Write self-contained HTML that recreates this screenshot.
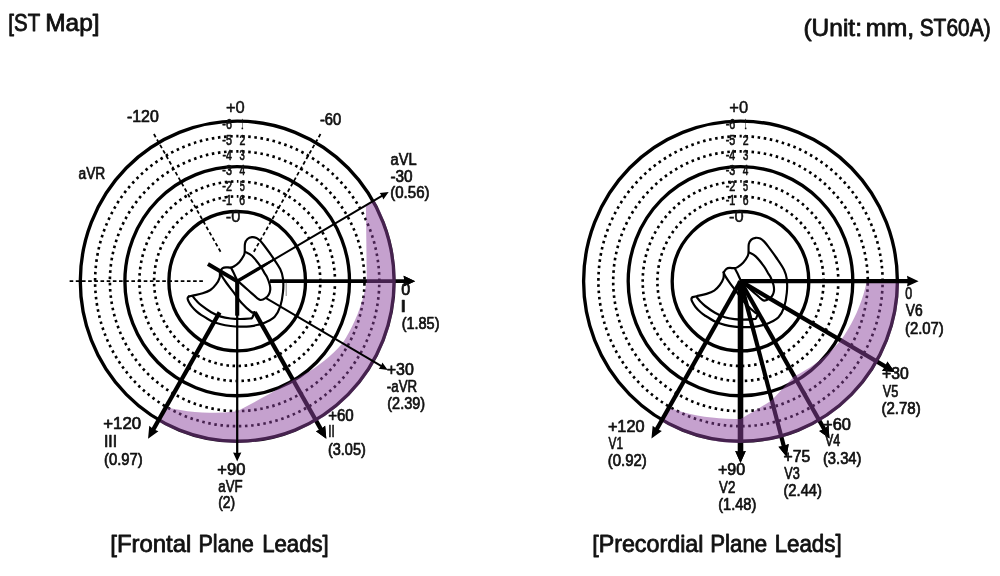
<!DOCTYPE html>
<html lang="en"><head><meta charset="utf-8"><title>ST Map</title>
<style>html,body{margin:0;padding:0;background:#fff}svg{display:block;filter:blur(0.45px)}text{font-family:"Liberation Sans",sans-serif;fill:#111;stroke:#111;stroke-width:0.7px;stroke-linejoin:round}text.h{stroke-width:0.8px}text.s{stroke-width:0.7px}text.m{stroke-width:0.45px}</style>
</head><body>
<svg width="1000" height="576" viewBox="0 0 1000 576">
<rect width="1000" height="576" fill="#fff"/>
<g transform="translate(237.2,281.2) scale(0.98,1)" stroke="#000" fill="none">
<line x1="-17.00" y1="-29.44" x2="-85.50" y2="-148.09" stroke-width="1.8" stroke-dasharray="3.7 2.6"/>
<line x1="17.00" y1="-29.44" x2="85.50" y2="-148.09" stroke-width="1.8" stroke-dasharray="3.7 2.6"/>
<line x1="-171.00" y1="0" x2="-33" y2="0" stroke-width="1.8" stroke-dasharray="3.7 2.6"/>
<circle r="69.7" fill="none" stroke="#000" stroke-width="3.4"/>
<circle r="84.8" fill="none" stroke="#000" stroke-width="2.7" stroke-dasharray="2.6 3.6684" stroke-dashoffset="1.3" transform="rotate(-90)"/>
<circle r="99.8" fill="none" stroke="#000" stroke-width="2.7" stroke-dasharray="2.6 3.6706" stroke-dashoffset="1.3" transform="rotate(-90)"/>
<circle r="114.6" fill="none" stroke="#000" stroke-width="3.4"/>
<circle r="129.9" fill="none" stroke="#000" stroke-width="2.7" stroke-dasharray="2.6 3.6784" stroke-dashoffset="1.3" transform="rotate(-90)"/>
<circle r="145.0" fill="none" stroke="#000" stroke-width="2.7" stroke-dasharray="2.6 3.6832" stroke-dashoffset="1.3" transform="rotate(-90)"/>
<circle r="160.1" fill="none" stroke="#000" stroke-width="3.4"/>
<g fill="none" stroke="#000" stroke-width="2.2" stroke-linejoin="round" stroke-linecap="round">
<path d="M-17.65,-9.50 C-17.70,-8.48 -17.30,-5.52 -17.96,-3.40 C-18.62,-1.28 -20.07,1.17 -21.63,3.20 C-23.20,5.23 -25.09,7.32 -27.35,8.80 C-29.61,10.28 -32.19,11.17 -35.20,12.10 C-38.21,13.03 -43.04,13.87 -45.41,14.40 C-47.77,14.93 -48.72,15.15 -49.39,15.30"/>
<path d="M-49.39,15.30 C-49.59,15.58 -50.58,16.17 -50.61,17.00 C-50.65,17.83 -50.29,18.93 -49.59,20.30 C-48.89,21.67 -47.77,23.55 -46.43,25.20 C-45.09,26.85 -43.18,28.75 -41.53,30.20 C-39.88,31.65 -39.03,32.32 -36.53,33.90 C-34.03,35.48 -29.85,38.17 -26.53,39.70 C-23.21,41.23 -19.93,42.25 -16.63,43.10 C-13.33,43.95 -10.03,44.42 -6.73,44.80 C-3.44,45.18 -0.14,45.35 3.16,45.40 C6.46,45.45 10.09,45.40 13.06,45.10 C16.04,44.80 18.33,44.28 21.02,43.60 C23.71,42.92 26.31,42.35 29.18,41.00 C32.06,39.65 35.82,38.08 38.27,35.50 C40.71,32.92 42.47,29.58 43.88,25.50 C45.29,21.42 46.26,15.68 46.73,11.00 C47.21,6.32 47.21,1.25 46.73,-2.60 C46.26,-6.45 45.68,-8.48 43.88,-12.10 C42.07,-15.72 38.59,-20.45 35.92,-24.30 C33.25,-28.15 29.93,-32.52 27.86,-35.20 C25.78,-37.88 24.83,-39.07 23.47,-40.40 C22.11,-41.73 21.11,-42.60 19.69,-43.20 C18.28,-43.80 16.53,-44.17 15.00,-44.00 C13.47,-43.83 11.68,-43.25 10.51,-42.20 C9.34,-41.15 8.44,-39.85 7.96,-37.70 C7.48,-35.55 7.86,-31.32 7.65,-29.30 C7.45,-27.28 7.65,-27.32 6.73,-25.60 C5.82,-23.88 3.84,-20.82 2.14,-19.00 C0.44,-17.18 -1.96,-15.60 -3.47,-14.70 C-4.98,-13.80 -5.61,-13.73 -6.94,-13.60 C-8.27,-13.47 -10.12,-14.00 -11.43,-13.90 C-12.74,-13.80 -13.76,-13.73 -14.80,-13.00 C-15.83,-12.27 -17.18,-10.08 -17.65,-9.50"/>
<path d="M8.27,-29.30 C9.39,-28.65 12.47,-27.72 15.00,-25.40 C17.53,-23.08 21.29,-18.32 23.47,-15.40 C25.65,-12.48 26.92,-9.75 28.06,-7.90 C29.20,-6.05 29.46,-6.15 30.31,-4.30 C31.16,-2.45 32.60,1.02 33.16,3.20 C33.72,5.38 33.83,7.12 33.67,8.80 C33.52,10.48 32.99,12.00 32.24,13.30 C31.50,14.60 30.54,15.68 29.18,16.60 C27.82,17.52 25.51,18.72 24.08,18.80 C22.65,18.88 22.79,18.77 20.61,17.10 C18.44,15.43 14.13,11.48 11.02,8.80 C7.91,6.12 3.76,2.58 1.94,1.00 C0.12,-0.58 0.41,-0.42 0.10,-0.70"/>
<path d="M-6.33,-13.60 C-5.90,-12.78 -4.68,-10.53 -3.78,-8.70 C-2.87,-6.87 -1.56,-3.93 -0.92,-2.60 C-0.27,-1.27 -0.07,-1.02 0.10,-0.70"/>
<path d="M-17.65,-9.50 C-17.43,-8.95 -17.45,-8.08 -16.33,-6.20 C-15.20,-4.32 -12.98,-1.02 -10.92,1.80 C-8.86,4.62 -6.56,7.37 -3.98,10.70 C-1.39,14.03 1.51,18.45 4.59,21.80 C7.67,25.15 12.33,29.27 14.49,30.80 C16.65,32.33 17.04,30.97 17.55,31.00"/>
<path d="M-45.10,15.40 C-44.51,16.10 -42.96,18.13 -41.53,19.60 C-40.10,21.07 -39.03,22.30 -36.53,24.20 C-34.03,26.10 -29.85,29.13 -26.53,31.00 C-23.21,32.87 -19.93,34.35 -16.63,35.40 C-13.33,36.45 -10.03,36.90 -6.73,37.30 C-3.44,37.70 -0.14,37.80 3.16,37.80 C6.46,37.80 11.07,37.47 13.06,37.30 C15.05,37.13 14.56,37.30 15.10,36.80 C15.65,36.30 15.92,35.27 16.33,34.30 C16.73,33.33 17.35,31.55 17.55,31.00"/>
</g>
<line x1="33.50" y1="0.00" x2="173.34" y2="0.00" stroke-width="3.7"/>
<path d="M181.60,0.00 L169.80,5.40 L170.63,0.00 L169.80,-5.40 Z" fill="#000" stroke="none"/>
<line x1="18.00" y1="31.18" x2="86.82" y2="150.38" stroke-width="4.3"/>
<path d="M90.95,157.53 L80.37,150.01 L85.46,148.03 L89.73,144.61 Z" fill="#000" stroke="none"/>
<path d="M140.04,-80.85 A161.7,161.7 0 0 1 -80.85,140.04 L-72.74,125.99 L-65.39,127.59 L-58.01,128.92 L-50.63,129.97 L-43.25,130.75 L-35.90,131.26 L-28.59,131.51 L-21.33,131.49 L-14.13,131.23 L-7.02,130.71 L0.00,129.96 L5.83,127.01 L11.63,124.02 L17.42,120.99 L23.17,117.92 L28.90,114.82 L34.60,111.68 L40.27,108.52 L45.90,105.32 L51.50,102.09 L57.07,98.85 L62.57,96.25 L68.01,93.41 L73.37,90.31 L78.64,86.97 L83.79,83.39 L88.83,79.57 L93.72,75.52 L98.47,71.24 L103.05,66.75 L107.46,62.04 L110.99,56.51 L114.31,50.80 L117.41,44.92 L120.28,38.88 L122.92,32.70 L125.30,26.37 L127.44,19.93 L129.30,13.38 L130.90,6.73 L132.22,0.00 L131.34,-75.83 Z" fill="rgb(139,67,157)" fill-opacity="0.5" stroke="none"/>
<path d="M181.60,0.00 L169.80,5.40 L170.63,0.00 L169.80,-5.40 Z" fill="#000" stroke="none"/>
<path d="M90.95,157.53 L80.37,150.01 L85.46,148.03 L89.73,144.61 Z" fill="#000" stroke="none"/>
<line x1="-18.00" y1="31.18" x2="-86.82" y2="150.38" stroke-width="4.3"/>
<path d="M-90.95,157.53 L-89.73,144.61 L-85.46,148.03 L-80.37,150.01 Z" fill="#000" stroke="none"/>
<line x1="0" y1="0" x2="0" y2="34.5" stroke-width="4.2"/>
<line x1="0.00" y1="0.00" x2="0.00" y2="173.90" stroke-width="2.3"/>
<path d="M0.00,180.20 L-4.20,171.20 L0.00,171.83 L4.20,171.20 Z" fill="#000" stroke="none"/>
<line x1="0" y1="0" x2="-29.88" y2="-17.25" stroke-width="4.0"/>
<line x1="28.58" y1="16.50" x2="148.48" y2="85.72" stroke-width="2.0"/>
<path d="M153.63,88.70 L144.42,87.65 L146.79,84.75 L148.12,81.25 Z" fill="#000" stroke="none"/>
<path d="M-0.85,-1.47 L20.80,-13.97 L36.74,-22.37 L37.74,-20.63 L22.50,-11.03 L0.85,1.47 Z" fill="#000" stroke="none"/>
<line x1="0.00" y1="-0.00" x2="149.43" y2="-86.27" stroke-width="2.0"/>
<path d="M154.59,-89.25 L149.07,-81.80 L147.74,-85.30 L145.37,-88.20 Z" fill="#000" stroke="none"/>
</g>
<g transform="translate(740.5,281.2) scale(0.98,1)" stroke="#000" fill="none">
<circle r="69.7" fill="none" stroke="#000" stroke-width="3.4"/>
<circle r="84.8" fill="none" stroke="#000" stroke-width="2.7" stroke-dasharray="2.6 3.6684" stroke-dashoffset="1.3" transform="rotate(-90)"/>
<circle r="99.8" fill="none" stroke="#000" stroke-width="2.7" stroke-dasharray="2.6 3.6706" stroke-dashoffset="1.3" transform="rotate(-90)"/>
<circle r="114.6" fill="none" stroke="#000" stroke-width="3.4"/>
<circle r="129.9" fill="none" stroke="#000" stroke-width="2.7" stroke-dasharray="2.6 3.6784" stroke-dashoffset="1.3" transform="rotate(-90)"/>
<circle r="145.0" fill="none" stroke="#000" stroke-width="2.7" stroke-dasharray="2.6 3.6832" stroke-dashoffset="1.3" transform="rotate(-90)"/>
<circle r="160.1" fill="none" stroke="#000" stroke-width="3.4"/>
<g transform="translate(0.51,0.6)">
<g fill="none" stroke="#000" stroke-width="2.2" stroke-linejoin="round" stroke-linecap="round">
<path d="M-17.65,-9.50 C-17.70,-8.48 -17.30,-5.52 -17.96,-3.40 C-18.62,-1.28 -20.07,1.17 -21.63,3.20 C-23.20,5.23 -25.09,7.32 -27.35,8.80 C-29.61,10.28 -32.19,11.17 -35.20,12.10 C-38.21,13.03 -43.04,13.87 -45.41,14.40 C-47.77,14.93 -48.72,15.15 -49.39,15.30"/>
<path d="M-49.39,15.30 C-49.59,15.58 -50.58,16.17 -50.61,17.00 C-50.65,17.83 -50.29,18.93 -49.59,20.30 C-48.89,21.67 -47.77,23.55 -46.43,25.20 C-45.09,26.85 -43.18,28.75 -41.53,30.20 C-39.88,31.65 -39.03,32.32 -36.53,33.90 C-34.03,35.48 -29.85,38.17 -26.53,39.70 C-23.21,41.23 -19.93,42.25 -16.63,43.10 C-13.33,43.95 -10.03,44.42 -6.73,44.80 C-3.44,45.18 -0.14,45.35 3.16,45.40 C6.46,45.45 10.09,45.40 13.06,45.10 C16.04,44.80 18.33,44.28 21.02,43.60 C23.71,42.92 26.31,42.35 29.18,41.00 C32.06,39.65 35.82,38.08 38.27,35.50 C40.71,32.92 42.47,29.58 43.88,25.50 C45.29,21.42 46.26,15.68 46.73,11.00 C47.21,6.32 47.21,1.25 46.73,-2.60 C46.26,-6.45 45.68,-8.48 43.88,-12.10 C42.07,-15.72 38.59,-20.45 35.92,-24.30 C33.25,-28.15 29.93,-32.52 27.86,-35.20 C25.78,-37.88 24.83,-39.07 23.47,-40.40 C22.11,-41.73 21.11,-42.60 19.69,-43.20 C18.28,-43.80 16.53,-44.17 15.00,-44.00 C13.47,-43.83 11.68,-43.25 10.51,-42.20 C9.34,-41.15 8.44,-39.85 7.96,-37.70 C7.48,-35.55 7.86,-31.32 7.65,-29.30 C7.45,-27.28 7.65,-27.32 6.73,-25.60 C5.82,-23.88 3.84,-20.82 2.14,-19.00 C0.44,-17.18 -1.96,-15.60 -3.47,-14.70 C-4.98,-13.80 -5.61,-13.73 -6.94,-13.60 C-8.27,-13.47 -10.12,-14.00 -11.43,-13.90 C-12.74,-13.80 -13.76,-13.73 -14.80,-13.00 C-15.83,-12.27 -17.18,-10.08 -17.65,-9.50"/>
<path d="M8.27,-29.30 C9.39,-28.65 12.47,-27.72 15.00,-25.40 C17.53,-23.08 21.29,-18.32 23.47,-15.40 C25.65,-12.48 26.92,-9.75 28.06,-7.90 C29.20,-6.05 29.46,-6.15 30.31,-4.30 C31.16,-2.45 32.60,1.02 33.16,3.20 C33.72,5.38 33.83,7.12 33.67,8.80 C33.52,10.48 32.99,12.00 32.24,13.30 C31.50,14.60 30.54,15.68 29.18,16.60 C27.82,17.52 25.51,18.72 24.08,18.80 C22.65,18.88 22.79,18.77 20.61,17.10 C18.44,15.43 14.13,11.48 11.02,8.80 C7.91,6.12 3.76,2.58 1.94,1.00 C0.12,-0.58 0.41,-0.42 0.10,-0.70"/>
<path d="M-6.33,-13.60 C-5.90,-12.78 -4.68,-10.53 -3.78,-8.70 C-2.87,-6.87 -1.56,-3.93 -0.92,-2.60 C-0.27,-1.27 -0.07,-1.02 0.10,-0.70"/>
<path d="M-17.65,-9.50 C-17.43,-8.95 -17.45,-8.08 -16.33,-6.20 C-15.20,-4.32 -12.98,-1.02 -10.92,1.80 C-8.86,4.62 -6.56,7.37 -3.98,10.70 C-1.39,14.03 1.51,18.45 4.59,21.80 C7.67,25.15 12.33,29.27 14.49,30.80 C16.65,32.33 17.04,30.97 17.55,31.00"/>
<path d="M-45.10,15.40 C-44.51,16.10 -42.96,18.13 -41.53,19.60 C-40.10,21.07 -39.03,22.30 -36.53,24.20 C-34.03,26.10 -29.85,29.13 -26.53,31.00 C-23.21,32.87 -19.93,34.35 -16.63,35.40 C-13.33,36.45 -10.03,36.90 -6.73,37.30 C-3.44,37.70 -0.14,37.80 3.16,37.80 C6.46,37.80 11.07,37.47 13.06,37.30 C15.05,37.13 14.56,37.30 15.10,36.80 C15.65,36.30 15.92,35.27 16.33,34.30 C16.73,33.33 17.35,31.55 17.55,31.00"/>
</g>
</g>
<line x1="0.00" y1="0.00" x2="150.20" y2="86.72" stroke-width="4.3"/>
<path d="M157.36,90.85 L144.44,89.63 L147.85,85.36 L149.84,80.27 Z" fill="#000" stroke="none"/>
<line x1="0.00" y1="0.00" x2="86.72" y2="150.20" stroke-width="4.3"/>
<path d="M90.85,157.36 L80.27,149.84 L85.36,147.85 L89.63,144.44 Z" fill="#000" stroke="none"/>
<line x1="0.00" y1="0.00" x2="44.89" y2="167.53" stroke-width="4.3"/>
<path d="M47.03,175.51 L38.76,165.51 L44.19,164.91 L49.19,162.71 Z" fill="#000" stroke="none"/>
<line x1="0.00" y1="0.00" x2="0.00" y2="173.44" stroke-width="5.7"/>
<path d="M0.00,181.70 L-5.40,169.90 L0.00,170.73 L5.40,169.90 Z" fill="#000" stroke="none"/>
<path d="M161.70,0.00 A161.7,161.7 0 0 1 -80.85,140.04 L-73.12,126.64 L-65.94,128.92 L-58.69,130.94 L-51.39,132.70 L-44.05,134.20 L-36.69,135.44 L-29.31,136.42 L-21.95,137.15 L-14.60,137.62 L-7.28,137.83 L0.00,137.80 L3.24,135.97 L6.47,134.14 L9.68,132.30 L12.89,130.44 L16.09,128.58 L19.28,126.71 L22.45,124.82 L25.62,122.93 L28.78,121.03 L31.92,119.13 L54.88,95.06 L60.11,92.48 L65.26,89.66 L70.33,86.61 L75.30,83.33 L80.17,79.83 L84.90,76.10 L89.51,72.16 L93.96,68.00 L98.25,63.65 L102.37,59.10 L106.00,53.94 L109.44,48.58 L112.69,43.04 L115.72,37.32 L118.53,31.44 L121.11,25.41 L123.44,19.24 L125.53,12.94 L127.35,6.52 L128.91,0.00 Z" fill="rgb(139,67,157)" fill-opacity="0.5" stroke="none"/>
<path d="M157.36,90.85 L144.44,89.63 L147.85,85.36 L149.84,80.27 Z" fill="#000" stroke="none"/>
<path d="M90.85,157.36 L80.27,149.84 L85.36,147.85 L89.63,144.44 Z" fill="#000" stroke="none"/>
<path d="M47.03,175.51 L38.76,165.51 L44.19,164.91 L49.19,162.71 Z" fill="#000" stroke="none"/>
<path d="M0.00,181.70 L-5.40,169.90 L0.00,170.73 L5.40,169.90 Z" fill="#000" stroke="none"/>
<line x1="0.00" y1="0.00" x2="173.44" y2="0.00" stroke-width="4.3"/>
<path d="M181.70,0.00 L169.90,5.40 L170.73,0.00 L169.90,-5.40 Z" fill="#000" stroke="none"/>
<line x1="-0.00" y1="0.00" x2="-86.72" y2="150.20" stroke-width="4.3"/>
<path d="M-90.85,157.36 L-89.63,144.44 L-85.36,147.85 L-80.27,149.84 Z" fill="#000" stroke="none"/>
</g>
<line x1="286.2" y1="282.8" x2="286.2" y2="296" stroke="#777" stroke-width="0.9"/>
<g>
<text transform="translate(8.36,30.90) scale(0.8842,1)" font-size="23.2" class="h">[ST</text>
<text transform="translate(45.18,30.90) scale(1.0557,1)" font-size="23.2" class="h">Map]</text>
<text transform="translate(803.47,36.40) scale(1.0557,1)" font-size="23.2" class="h">(Unit:</text>
<text transform="translate(865.71,36.40) scale(1.0770,1)" font-size="23.2" class="h">mm,</text>
<text transform="translate(919.66,36.40) scale(0.9027,1)" font-size="23.2" class="h">ST60A)</text>
<text transform="translate(110.33,552.00) scale(1.0310,1)" font-size="23.2" class="h">[Frontal</text>
<text transform="translate(198.42,552.00) scale(0.9321,1)" font-size="23.2" class="h">Plane</text>
<text transform="translate(262.17,552.00) scale(0.9558,1)" font-size="23.2" class="h">Leads]</text>
<text transform="translate(592.17,551.50) scale(1.0037,1)" font-size="23.2" class="h">[Precordial</text>
<text transform="translate(710.27,551.50) scale(0.9586,1)" font-size="23.2" class="h">Plane</text>
<text transform="translate(774.66,551.50) scale(0.9619,1)" font-size="23.2" class="h">Leads]</text>
<text transform="translate(225.94,112.50) scale(1.0469,1)" font-size="15.8" class="m">+0</text>
<text transform="translate(222.37,129.20) scale(0.7414,1)" font-size="14.5" class="s">-6</text>
<text transform="translate(241.42,129.20) scale(0.2073,1)" font-size="14.5" class="s">1</text>
<text transform="translate(222.37,144.60) scale(0.7391,1)" font-size="14.5" class="s">-5</text>
<text transform="translate(239.42,144.60) scale(0.7275,1)" font-size="14.5" class="s">2</text>
<text transform="translate(222.38,159.70) scale(0.7277,1)" font-size="14.5" class="s">-4</text>
<text transform="translate(239.59,159.70) scale(0.6534,1)" font-size="14.5" class="s">3</text>
<text transform="translate(222.37,174.80) scale(0.7414,1)" font-size="14.5" class="s">-3</text>
<text transform="translate(239.42,174.80) scale(0.6965,1)" font-size="14.5" class="s">4</text>
<text transform="translate(222.36,190.60) scale(0.7484,1)" font-size="14.5" class="s">-2</text>
<text transform="translate(239.79,190.60) scale(0.6243,1)" font-size="14.5" class="s">5</text>
<text transform="translate(222.36,205.40) scale(0.7460,1)" font-size="14.5" class="s">-1</text>
<text transform="translate(239.33,205.40) scale(0.7158,1)" font-size="14.5" class="s">6</text>
<text transform="translate(225.78,221.90) scale(1.0417,1)" font-size="15.8" class="m">-0</text>
<text transform="translate(729.24,112.50) scale(1.0469,1)" font-size="15.8" class="m">+0</text>
<text transform="translate(725.67,129.20) scale(0.7414,1)" font-size="14.5" class="s">-6</text>
<text transform="translate(744.72,129.20) scale(0.2073,1)" font-size="14.5" class="s">1</text>
<text transform="translate(725.67,144.60) scale(0.7391,1)" font-size="14.5" class="s">-5</text>
<text transform="translate(742.72,144.60) scale(0.7275,1)" font-size="14.5" class="s">2</text>
<text transform="translate(725.68,159.70) scale(0.7277,1)" font-size="14.5" class="s">-4</text>
<text transform="translate(742.89,159.70) scale(0.6534,1)" font-size="14.5" class="s">3</text>
<text transform="translate(725.67,174.80) scale(0.7414,1)" font-size="14.5" class="s">-3</text>
<text transform="translate(742.72,174.80) scale(0.6965,1)" font-size="14.5" class="s">4</text>
<text transform="translate(725.66,190.60) scale(0.7484,1)" font-size="14.5" class="s">-2</text>
<text transform="translate(743.09,190.60) scale(0.6243,1)" font-size="14.5" class="s">5</text>
<text transform="translate(725.66,205.40) scale(0.7460,1)" font-size="14.5" class="s">-1</text>
<text transform="translate(742.63,205.40) scale(0.7158,1)" font-size="14.5" class="s">6</text>
<text transform="translate(729.08,221.90) scale(1.0417,1)" font-size="15.8" class="m">-0</text>
<text transform="translate(126.93,122.30) scale(1.0067,1)" font-size="15.8">-120</text>
<text transform="translate(319.89,124.55) scale(0.9337,1)" font-size="15.8">-60</text>
<text transform="translate(78.51,178.50) scale(0.8717,1)" font-size="15.8">aVR</text>
<text transform="translate(390.53,164.80) scale(0.9294,1)" font-size="15.8">aVL</text>
<text transform="translate(390.46,182.30) scale(0.9709,1)" font-size="15.8">-30</text>
<text transform="translate(390.21,198.00) scale(0.9532,1)" font-size="15.8">(0.56)</text>
<text transform="translate(401.20,294.70) scale(1.0206,1)" font-size="15.8">0</text>
<text transform="translate(400.35,312.05) scale(1.3685,1)" font-size="15.8">I</text>
<text transform="translate(401.64,328.70) scale(0.9176,1)" font-size="15.8">(1.85)</text>
<text transform="translate(386.69,374.55) scale(1.0103,1)" font-size="15.8">+30</text>
<text transform="translate(386.85,392.30) scale(0.8429,1)" font-size="15.8">-aVR</text>
<text transform="translate(387.24,409.25) scale(0.9176,1)" font-size="15.8">(2.39)</text>
<text transform="translate(328.13,420.70) scale(0.9553,1)" font-size="15.8">+60</text>
<text transform="translate(328.28,437.30) scale(0.7355,1)" font-size="15.8">II</text>
<text transform="translate(327.94,455.20) scale(0.9176,1)" font-size="15.8">(3.05)</text>
<text transform="translate(217.37,474.80) scale(1.0457,1)" font-size="15.8">+90</text>
<text transform="translate(218.29,491.50) scale(0.8391,1)" font-size="15.8">aVF</text>
<text transform="translate(218.23,508.30) scale(0.8774,1)" font-size="15.8">(2)</text>
<text transform="translate(103.25,428.60) scale(1.0658,1)" font-size="15.8">+120</text>
<text transform="translate(103.89,447.00) scale(0.9970,1)" font-size="15.8">III</text>
<text transform="translate(104.02,465.00) scale(0.9405,1)" font-size="15.8">(0.97)</text>
<text transform="translate(905.36,299.10) scale(0.7820,1)" font-size="15.8">0</text>
<text transform="translate(905.78,316.40) scale(0.8780,1)" font-size="15.8">V6</text>
<text transform="translate(904.92,333.80) scale(0.9430,1)" font-size="15.8">(2.07)</text>
<text transform="translate(882.10,379.00) scale(0.9985,1)" font-size="15.8">+30</text>
<text transform="translate(882.79,396.80) scale(0.8063,1)" font-size="15.8">V5</text>
<text transform="translate(881.41,413.80) scale(0.9532,1)" font-size="15.8">(2.78)</text>
<text transform="translate(823.07,430.00) scale(1.0378,1)" font-size="15.8">+60</text>
<text transform="translate(824.89,446.30) scale(0.7925,1)" font-size="15.8">V4</text>
<text transform="translate(822.93,464.40) scale(0.9354,1)" font-size="15.8">(3.34)</text>
<text transform="translate(783.60,461.60) scale(0.9961,1)" font-size="15.8">+75</text>
<text transform="translate(784.29,479.05) scale(0.8026,1)" font-size="15.8">V3</text>
<text transform="translate(783.43,496.35) scale(0.9354,1)" font-size="15.8">(2.44)</text>
<text transform="translate(717.89,475.40) scale(1.0142,1)" font-size="15.8">+90</text>
<text transform="translate(719.03,492.50) scale(0.8430,1)" font-size="15.8">V2</text>
<text transform="translate(718.19,509.55) scale(0.9239,1)" font-size="15.8">(1.48)</text>
<text transform="translate(607.88,432.05) scale(1.0278,1)" font-size="15.8">+120</text>
<text transform="translate(608.59,449.10) scale(0.7519,1)" font-size="15.8">V1</text>
<text transform="translate(607.72,466.40) scale(0.9468,1)" font-size="15.8">(0.92)</text>
</g>
</svg></body></html>
